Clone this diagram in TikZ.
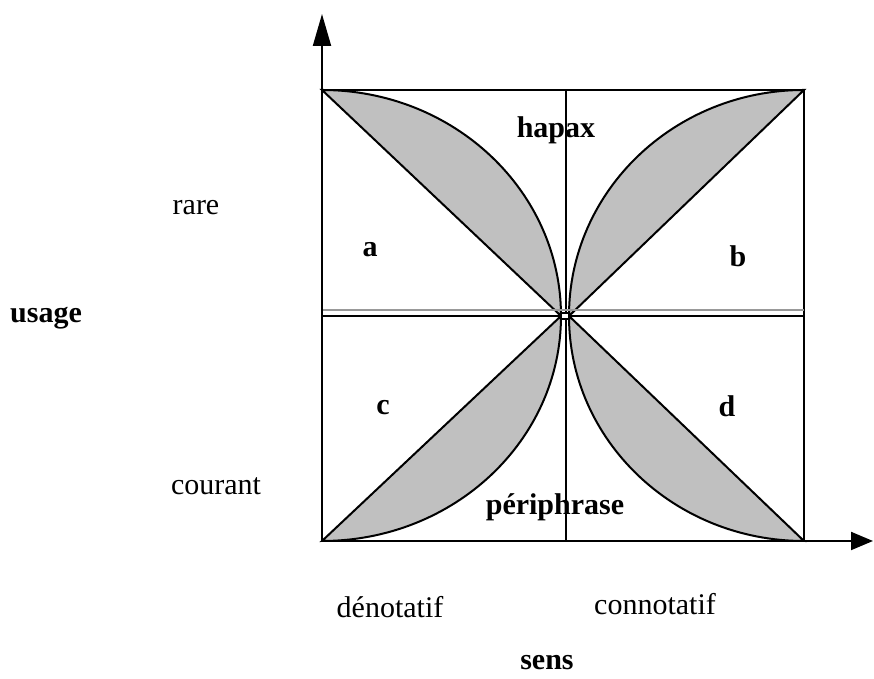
\documentclass[tikz,border=0pt]{standalone}
\usepackage{fontspec}
\setmainfont{Liberation Serif}
\usetikzlibrary{arrows.meta}
\definecolor{lensgray}{RGB}{192,192,192}

\begin{document}
\begin{tikzpicture}[
    x=0.5pt, y=0.5pt,
    lbl/.style={inner sep=0pt, anchor=base, font=\fontsize{15}{18}\selectfont},
    key/.style={lbl, font=\fontsize{15}{18}\selectfont\bfseries},
    frame/.style={line width=1pt},
    lens/.style={fill=lensgray, draw=black, line width=1pt},
    axis/.style={line width=1pt, -{Triangle[length=16pt, width=9pt]}},
  ]
  \useasboundingbox (-322,-138) rectangle (552,541);

  % corners, centre and axis ends
  \coordinate (O)    at (0,0);
  \coordinate (TL)   at (0,451);
  \coordinate (TR)   at (482,451);
  \coordinate (BR)   at (482,0);
  \coordinate (CL)   at (239,225);
  \coordinate (CR)   at (247,225);
  \coordinate (midT) at (244,451);
  \coordinate (midB) at (244,0);
  \coordinate (midL) at (0,225);
  \coordinate (midR) at (482,225);
  \coordinate (yTip) at (0,527);
  \coordinate (xTip) at (551,0);

  % shaded lenses
  \filldraw[lens] (TL) arc[start angle=90, end angle=0, x radius=239, y radius=226] -- cycle;
  \filldraw[lens] (CR) arc[start angle=180, end angle=90, x radius=235, y radius=226] -- cycle;
  \filldraw[lens] (O) arc[start angle=-90, end angle=0, x radius=239, y radius=225] -- cycle;
  \filldraw[lens] (CR) arc[start angle=180, end angle=270, x radius=235, y radius=225] -- cycle;

  % square and its middle lines
  \draw[frame] (TL) rectangle (BR);
  \draw[frame] (midB) -- (midT);
  \draw[line width=1pt, gray!80] ([yshift=3]midL) -- ([yshift=3]midR);
  \draw[frame] (midL) -- (midR);
  \draw[fill=white, line width=0.6pt] (239,222) rectangle (247,228);

  % axes
  \draw[axis] (O) -- (yTip);
  \draw[axis, -{Triangle[length=11pt, width=9pt]}] (O) -- (xTip);

  % labels
  \node[key] (usage)  at (-276,218) {usage};
  \node[lbl] (rare)   at (-126,326) {rare};
  \node[lbl] (cour)   at (-106,46)  {courant};
  \node[key] (hapax)  at (234,403)  {hapax};
  \node[key] (peri)   at (233,26)   {périphrase};
  \node[key] (qa)     at (48,284)   {a};
  \node[key] (qb)     at (416,274)  {b};
  \node[key] (qc)     at (61,126)   {c};
  \node[key] (qd)     at (405,124)  {d};
  \node[lbl] (deno)   at (68,-77)   {dénotatif};
  \node[lbl] (conno)  at (333,-74)  {connotatif};
  \node[key] (sens)   at (225,-129) {sens};
\end{tikzpicture}
\end{document}
